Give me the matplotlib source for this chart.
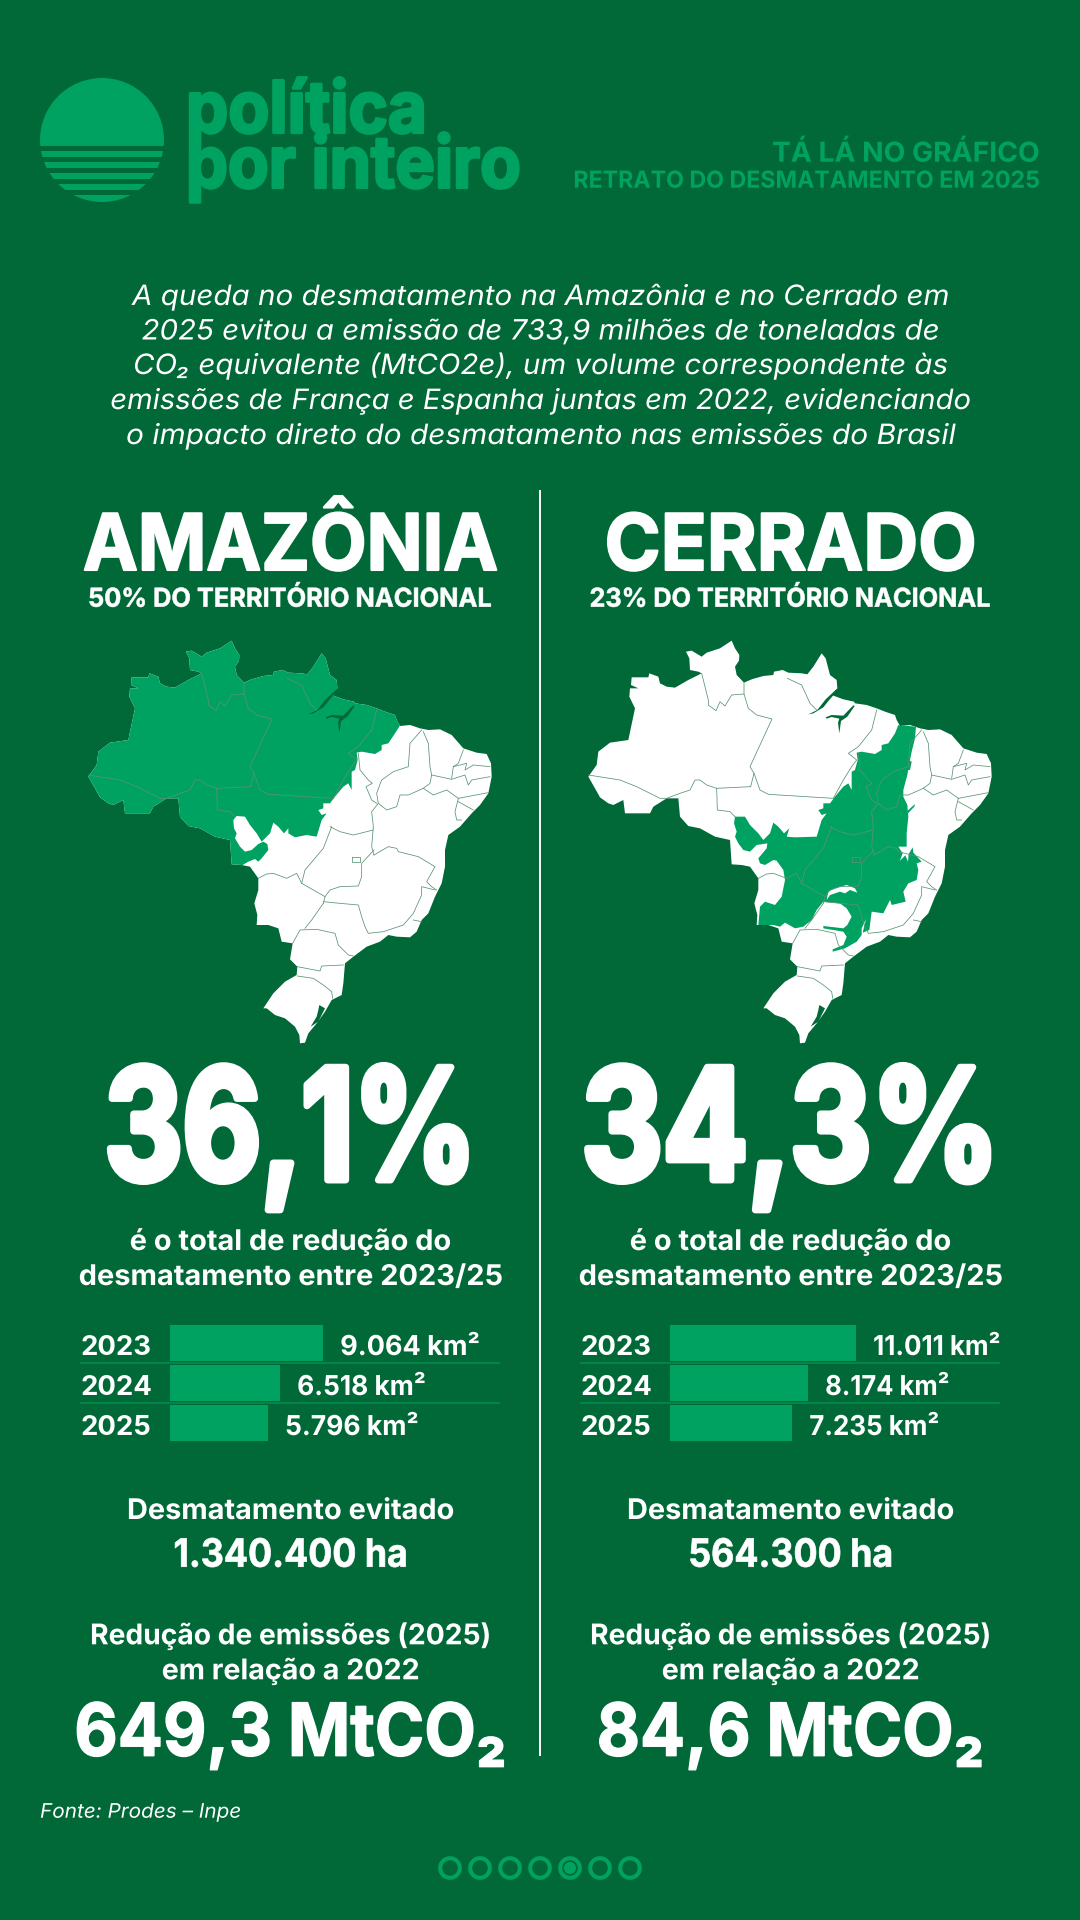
import matplotlib
matplotlib.use("Agg")
import matplotlib.pyplot as plt
from matplotlib.patches import Polygon, Circle, Rectangle
from matplotlib.transforms import Affine2D
import matplotlib.patheffects as pe

BG = "#006937"; GREEN = "#00A261"; WHITE = "#FFFFFF"; RULE = "#008A4E"; BORDER = "#5A9275"
FONT = ["Inter", "Liberation Sans", "DejaVu Sans"]

# ---- data -----------------------------------------------------------------
years = ["2023", "2024", "2025"]
amazonia_km2 = [9064, 6518, 5796]
cerrado_km2 = [11011, 8174, 7235]
amazonia_labels = ["9.064 km²", "6.518 km²", "5.796 km²"]
cerrado_labels = ["11.011 km²", "8.174 km²", "7.235 km²"]
panel_names = ["AMAZÔNIA", "CERRADO"]
panel_shares = ["50% DO TERRITÓRIO NACIONAL", "23% DO TERRITÓRIO NACIONAL"]
panel_totals = ["36,1%", "34,3%"]
panel_avoided = ["1.340.400 ha", "564.300 ha"]
panel_emissions = ["649,3 MtCO₂", "84,6 MtCO₂"]
intro_lines = [
    "A queda no desmatamento na Amazônia e no Cerrado em",
    "2025 evitou a emissão de 733,9 milhões de toneladas de",
    "CO₂ equivalente (MtCO2e), um volume correspondente às",
    "emissões de França e Espanha juntas em 2022, evidenciando",
    "o impacto direto do desmatamento nas emissões do Brasil",
]

# ---- map geometry (3x map-local units) --------------------------------------
brazil = [(515,62),(525,85),(538,105),(537,122),(525,140),(530,165),(552,188),(575,178),(610,168),(640,165),(642,155),(668,150),(685,158),(725,160),(742,163),(760,140),(785,100),(797,115),(810,165),(830,180),(832,205),(815,225),(850,238),(882,245),(885,250),(920,255),(950,265),(975,275),(1005,285),(1010,300),(1020,318),(1050,315),(1080,325),(1105,330),(1140,328),(1175,345),(1210,385),(1250,398),(1280,402),(1293,430),(1295,470),(1285,520),(1260,555),(1235,580),(1200,620),(1165,645),(1155,690),(1155,740),(1145,790),(1125,830),(1105,880),(1085,900),(1070,935),(1050,952),(1010,950),(985,945),(960,965),(920,980),(880,1010),(855,1030),(850,1090),(845,1125),(815,1140),(795,1175),(770,1210),(745,1240),(735,1268),(720,1270),(718,1245),(705,1220),(675,1195),(645,1185),(620,1165),(610,1165),(640,1120),(675,1085),(710,1065),(712,1040),(690,1018),(698,970),(665,965),(655,925),(625,915),(590,915),(592,885),(583,850),(595,810),(595,775),(570,740),(545,735),(515,733),(510,660),(465,650),(420,625),(385,618),(360,590),(355,535),(320,535),(280,560),(270,580),(195,580),(190,540),(160,555),(145,550),(120,532),(105,505),(85,470),(110,435),(115,395),(150,368),(205,360),(225,265),(208,230),(210,205),(235,205),(213,195),(215,172),(265,172),(268,160),(295,170),(300,190),(320,200),(345,203),(385,180),(425,160),(415,155),(390,150),(388,115),(378,95),(395,92),(425,110),(440,98),(480,85)]
amazon = [(1030,290),(1018,320),(1005,340),(985,370),(965,375),(965,390),(945,402),(905,395),(890,398),(893,420),(885,450),(875,455),(875,510),(865,490),(850,500),(825,530),(810,550),(790,550),(790,565),(775,570),(785,585),(800,580),(785,600),(770,650),(740,645),(705,652),(685,640),(685,625),(672,640),(655,620),(640,608),(630,640),(605,665),(590,640),(570,615),(555,590),(530,588),(520,600),(522,625),(530,640),(525,655),(540,680),(555,695),(575,690),(595,672),(610,665),(622,672),(625,690),(605,715),(595,725),(585,717),(565,725),(548,735),(540,760),(300,760),(40,500),(40,20),(1100,20),(1100,290)]
cerrado = [(1015,315),(1068,320),(1065,355),(1055,395),(1050,420),(1042,465),(1030,510),(1030,530),(1042,555),(1045,590),(1040,640),(1040,680),(1015,680),(1028,700),(1020,722),(1036,706),(1044,725),(1046,702),(1058,682),(1060,698),(1085,725),(1070,730),(1075,750),(1070,780),(1045,790),(1030,815),(1037,845),(995,855),(990,840),(970,880),(935,875),(928,930),(908,938),(918,897),(905,925),(905,945),(890,965),(855,985),(818,995),(818,988),(850,975),(860,950),(850,935),(790,925),(790,918),(850,925),(862,915),(875,890),(860,865),(840,850),(790,845),(770,870),(755,900),(730,920),(705,925),(675,908),(660,920),(640,915),(595,915),(600,860),(615,845),(645,855),(665,830),(675,780),(670,750),(650,722),(640,720),(615,735),(600,730),(595,715),(620,685),(622,670),(590,675),(570,695),(550,690),(535,670),(525,650),(530,635),(522,610),(525,590),(555,590),(570,615),(595,640),(610,660),(630,640),(640,608),(655,620),(672,640),(688,625),(680,650),(705,652),(770,650),(785,600),(800,580),(785,585),(775,570),(790,565),(790,550),(810,550),(825,530),(850,500),(865,490),(875,510),(875,455),(885,450),(893,420),(890,398),(905,395),(945,402),(965,390),(965,375),(985,370),(1005,340)]
cerrado_extra = [
    [(1040,575),(1065,552),(1063,560),(1042,582)],
    [(1045,420),(1055,425),(1050,450),(1040,450)],
]
cerrado_holes = [[(800,840),(805,815),(825,805),(860,795),(885,805),(892,818),(870,810),(855,820),(840,815),(810,825)]]
water = [
    [(745,283),(772,270),(797,238),(830,207),(832,212),(806,242),(790,262),(760,280)],
    [(797,292),(815,285),(850,287),(880,256),(884,258),(862,290),(843,303),(838,340),(834,308),(838,296),(815,291),(800,296)],
    [(778,1155),(795,1165),(775,1205),(752,1220),(770,1190),(775,1170)],
]
borders = [
    [(85,465),(180,480),(230,500),(300,535),(320,535)],
    [(425,160),(445,240),(445,255),(468,272),(480,245),(495,258),(515,225),(552,222)],
    [(552,188),(552,222),(565,265),(590,285),(636,297),(570,440),(582,460),(572,500)],
    [(572,500),(470,505),(440,495),(420,480),(405,480),(390,510),(360,520),(320,535)],
    [(470,505),(472,570),(510,575),(525,590)],
    [(582,460),(600,510),(625,523),(820,535)],
    [(682,175),(725,195),(750,250),(770,270)],
    [(950,270),(935,330),(895,380),(865,400),(890,420),(875,440),(850,480),(820,535)],
    [(895,400),(900,450),(925,480),(937,490),(918,500),(935,540),(950,550)],
    [(1085,330),(1050,370),(1045,440),(1000,455),(965,480),(950,520),(955,550),(980,570),(1010,560),(1020,525),(1045,525),(1090,505)],
    [(1090,335),(1105,370),(1110,440),(1115,465),(1110,490),(1090,505)],
    [(1090,505),(1120,525),(1160,510),(1195,535)],
    [(955,550),(935,575),(940,620),(935,680),(942,705)],
    [(942,705),(985,680),(1010,685),(1015,695),(1075,710),(1125,740),(1100,785),(1115,800),(1130,810)],
    [(810,620),(840,635),(880,645),(940,630)],
    [(815,620),(790,685),(735,750),(725,790),(795,830)],
    [(942,690),(905,730),(905,770),(895,798),(840,800),(810,810),(795,830),(790,850)],
    [(875,710),(900,710),(900,725),(875,725),(875,710)],
    [(595,775),(620,762),(640,760),(680,775),(710,760),(725,790)],
    [(790,850),(755,900),(735,925)],
    [(790,845),(840,850),(895,855),(905,890),(915,920),(925,940),(970,935),(1030,915),(1060,880),(1085,825),(1085,800),(1125,810)],
    [(1060,900),(1085,905)],
    [(698,970),(720,930),(770,928),(825,940),(835,975),(865,1005),(880,1008)],
    [(712,1040),(780,1053),(785,1038),(850,1035)],
    [(712,1068),(760,1075),(790,1095),(815,1115),(818,1135)],
    [(1210,390),(1195,430),(1180,440),(1175,475)],
    [(1115,465),(1175,478),(1215,465),(1225,495),(1235,480),(1290,470)],
    [(1180,440),(1220,430),(1215,450),(1240,435),(1290,440)],
    [(1195,535),(1285,518)],
    [(1195,545),(1240,570)],
    [(1195,535),(1185,575),(1190,600),(1205,600)],
]

# ---- figure ----------------------------------------------------------------
W, H = 1080, 1920
fig = plt.figure(figsize=(W/100, H/100), dpi=100, facecolor=BG)
ax = fig.add_axes([0, 0, 1, 1])
ax.set_xlim(0, W); ax.set_ylim(H, 0); ax.axis("off")
renderer = fig.canvas.get_renderer()


class Squeeze(pe.AbstractPathEffect):
    """Draw real text compressed horizontally about x0 (display px), optionally emboldened."""
    def __init__(self, sx, x0, fat=0):
        super().__init__()
        self.sx, self.x0, self.fat = sx, x0, fat

    def draw_path(self, renderer, gc, tpath, affine, rgbFace=None):
        a = affine + Affine2D().translate(-self.x0, 0).scale(self.sx, 1).translate(self.x0, 0)
        if self.fat:
            g = renderer.new_gc()
            g.copy_properties(gc)
            g.set_linewidth(self.fat)
            g.set_foreground(rgbFace)
            renderer.draw_path(g, tpath, a, rgbFace)
            g.restore()
        else:
            renderer.draw_path(gc, tpath, a, rgbFace)


def fit(t, width, x0, fat=0):
    if width is None:
        if fat:
            t.set_path_effects([Squeeze(1.0, x0, fat)])
        return
    sx = width / t.get_window_extent(renderer).width
    t.set_path_effects([Squeeze(sx, x0, fat)])


def txt(x, y, s, px, width=None, color=WHITE, ha="center", weight="bold", style="normal", fat=0):
    t = ax.text(x, y, s, fontsize=px*0.72, color=color, ha=ha, va="baseline",
                fontweight=weight, fontstyle=style, family=FONT)
    fit(t, width, x, fat)
    return t

# logo
sun = Circle((102, 140), 62, color=GREEN, lw=0)
ax.add_patch(sun)
for y0, y1 in [(145.7, 150.7), (156.7, 161.7), (168.3, 173), (179, 184), (190, 194.7)]:
    ax.add_patch(Rectangle((30, y0), 145, y1-y0, color=BG, lw=0, zorder=3))
txt(186, 132.7, "política", 72, 241, GREEN, ha="left", fat=2.0)
txt(186, 187.7, "por inteiro", 72, 335, GREEN, ha="left", fat=2.0)
txt(1039, 161.7, "TÁ LÁ NO GRÁFICO", 27.5, 267, GREEN, ha="right")
txt(1039, 187.7, "RETRATO DO DESMATAMENTO EM 2025", 23.5, 465.6, GREEN, ha="right")

# intro
intro_widths = [816, 797, 814, 859.5, 828]
for line, yb, w in zip(intro_lines, [305, 339.5, 374, 409, 444], intro_widths):
    txt(540, yb, line, 28, w, weight="normal", style="italic")

# divider
ax.plot([540, 540], [490, 1756], color=WHITE, lw=1.4, solid_capstyle="butt")

def to_px(pts, ox, oy=620):
    return [(ox + x/3, oy + y/3) for x, y in pts]

def draw_map(ox, biome, extra=(), holes=()):
    base = Polygon(to_px(brazil, ox), closed=True, fc=WHITE, ec="none", zorder=2)
    ax.add_patch(base)
    for poly in [biome, *extra]:
        g = Polygon(to_px(poly, ox), closed=True, fc=GREEN, ec="none", zorder=3)
        ax.add_patch(g)
        g.set_clip_path(base)
    for poly in holes:
        ax.add_patch(Polygon(to_px(poly, ox), closed=True, fc=WHITE, ec="none", zorder=3.5))
    for line in borders:
        xs, ys = zip(*to_px(line, ox))
        ax.plot(xs, ys, color=BORDER, lw=0.55, zorder=4)
    for poly in water:
        ax.add_patch(Polygon(to_px(poly, ox), closed=True, fc=BG, ec="none", zorder=5))

draw_map(60, amazon)
draw_map(560, cerrado, cerrado_extra, cerrado_holes)

name_w = [415, 372]
share_w = [405, 402]
total_w = [372, 418]
avoided_w = [234, 204.5]
emission_w = [432.5, 387.7]
label_w = [[139.6, 128.6, 133.5], [127, 124.3, 130]]

def panel(i, cx, barx, values, labels):
    txt(cx, 570, panel_names[i], 78, name_w[i], fat=1.5)
    txt(cx, 606.7, panel_shares[i], 26, share_w[i], fat=0.4)
    txt(cx, 1180, panel_totals[i], 155, total_w[i], fat=5)
    txt(cx, 1250, "é o total de redução do", 28.5, 321.6)
    txt(cx, 1285, "desmatamento entre 2023/25", 28.5, 423.6)
    txt(cx, 1519, "Desmatamento evitado", 28.5, 327)
    txt(cx, 1566.7, panel_avoided[i], 39, avoided_w[i], fat=0.5)
    txt(cx, 1644.3, "Redução de emissões (2025)", 28.5, 400.8)
    txt(cx, 1679.3, "em relação a 2022", 28.5, 257.6)
    txt(cx, 1755.7, panel_emissions[i], 73, emission_w[i], fat=1.0)
    # separators
    for y in (1363, 1403):
        ax.plot([barx-90, barx+330], [y, y], color=RULE, lw=1.3, solid_capstyle="butt")
    # bars: 1 000 km2 = 16.9 px
    a = fig.add_axes([barx/W, 1-1443/H, 290/W, 120/H])
    a.set_xlim(0, 290/0.0169); a.set_ylim(2.5, -0.5); a.axis("off"); a.patch.set_alpha(0)
    a.barh(range(len(values)), values, height=0.8875, color=GREEN)
    for k, (v, lab, yr) in enumerate(zip(values, labels, years)):
        t = a.annotate(lab, (v, k), xytext=(17*0.72, -12*0.72), textcoords="offset points",
                       ha="left", va="baseline", fontsize=27.4*0.72, color=WHITE, fontweight="bold",
                       family=FONT, annotation_clip=False)
        x0 = t.get_window_extent(renderer).x0
        fit(t, label_w[i][k], x0)
        a.annotate(yr, (0, k), xytext=(-90*0.72, -12*0.72), textcoords="offset points",
                   ha="left", va="baseline", fontsize=27.5*0.72, color=WHITE, fontweight="bold",
                   family=FONT, annotation_clip=False)

panel(0, 290.5, 170, amazonia_km2, amazonia_labels)
panel(1, 790.5, 670, cerrado_km2, cerrado_labels)

txt(40, 1817.7, "Fonte: Prodes – Inpe", 20, 201, ha="left", weight="normal", style="italic")

# pager dots
for k, x in enumerate(range(450, 631, 30)):
    ax.add_patch(Circle((x, 1868), 9.8, fc="none", ec=GREEN, lw=2.9))
    if k == 4:
        ax.add_patch(Circle((x, 1868), 6, fc=GREEN, ec="none"))

fig.savefig("out.png", dpi=100, facecolor=BG)
